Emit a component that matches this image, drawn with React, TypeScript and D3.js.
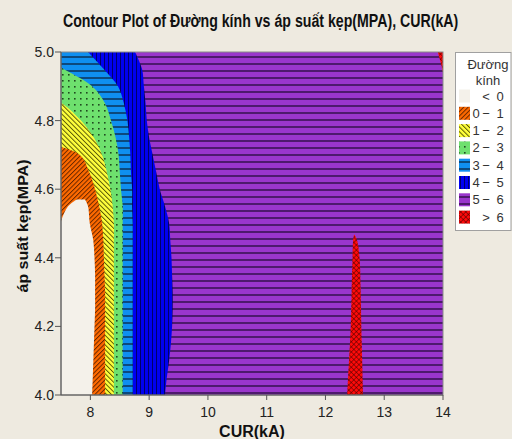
import React, { useLayoutEffect, useRef } from "react";
import * as d3 from "d3";

// pressure rows (MPa) at which the contour edges were read
const pressure = [4.0, 4.05, 4.1, 4.15, 4.2, 4.25, 4.3, 4.35, 4.4, 4.45, 4.5, 4.55, 4.6, 4.65, 4.7, 4.75, 4.8, 4.85, 4.9, 4.95, 5.0];

// CUR (kA) where Đường kính crosses 1, 2, 3, 4, 5 on each row
const edge1 = [8.25, 8.25, 8.25, 8.25, 8.25, 8.25, 8.25, 8.24, 8.23, 8.22, 8.2, 8.15, 8.08, 7.98, 7.82, 7.0, 6.6, 6.3, 6.0, 5.8, 5.6];
const edge2 = [8.4, 8.4, 8.4, 8.4, 8.4, 8.4, 8.4, 8.4, 8.4, 8.4, 8.4, 8.38, 8.34, 8.28, 8.2, 8.06, 7.84, 7.52, 7.0, 6.6, 6.3];
const edge3 = [8.55, 8.55, 8.55, 8.55, 8.55, 8.55, 8.55, 8.55, 8.55, 8.55, 8.55, 8.55, 8.52, 8.5, 8.48, 8.43, 8.35, 8.25, 8.03, 7.55, 7.0];
const edge4 = [8.72, 8.72, 8.72, 8.72, 8.72, 8.72, 8.72, 8.72, 8.72, 8.72, 8.72, 8.71, 8.71, 8.69, 8.68, 8.66, 8.63, 8.57, 8.47, 8.23, 7.96];
const edge5 = [9.27, 9.3, 9.34, 9.37, 9.39, 9.4, 9.4, 9.39, 9.38, 9.36, 9.34, 9.27, 9.18, 9.12, 9.06, 9.0, 8.96, 8.94, 8.91, 8.88, 8.76];

// the "< 0" dome at the bottom left
const domePressure = [4.0, 4.05, 4.1, 4.15, 4.2, 4.25, 4.3, 4.35, 4.4, 4.45, 4.5, 4.55, 4.57];
const domeLeft = [7.45, 7.45, 7.45, 7.45, 7.45, 7.45, 7.45, 7.45, 7.45, 7.45, 7.49, 7.62, 7.77];
const domeRight = [8.03, 8.04, 8.05, 8.06, 8.07, 8.08, 8.08, 8.08, 8.07, 8.05, 7.99, 7.96, 7.91];

// the "> 6" spike near 12.5 kA and the top right corner
const spikePressure = [4.0, 4.1, 4.2, 4.3, 4.4, 4.45, 4.467];
const spikeLeft = [12.37, 12.4, 12.43, 12.445, 12.46, 12.47, 12.485];
const spikeRight = [12.64, 12.625, 12.61, 12.6, 12.58, 12.54, 12.495];
const cornerPressure = [4.94, 4.97, 5.0];
const cornerLeft = [14.0, 13.96, 13.91];
const cornerRight = [14.0, 14.0, 14.0];

const xTicks = [8, 9, 10, 11, 12, 13, 14];
const yTicks = [4.0, 4.2, 4.4, 4.6, 4.8, 5.0];
const legendLow = ["", "0", "1", "2", "3", "4", "5", ""];
const legendSign = ["<", "−", "−", "−", "−", "−", "−", ">"];
const legendHigh = ["0", "1", "2", "3", "4", "5", "6", "6"];
const patternIds = ["pWhite", "pOrange", "pYellow", "pGreen", "pLight", "pBlue", "pPurple", "pRed"];

const FONT = "'Liberation Sans Narrow', 'Liberation Sans', Arial, sans-serif";
const TITLE = "Contour Plot of Đường kính vs áp suất kẹp(MPA), CUR(kA)";

export default function App() {
  const titleRef = useRef<SVGTextElement>(null);

  // squeeze the bold title horizontally so it spans the same width as the original
  useLayoutEffect(() => {
    const el = titleRef.current;
    if (!el) return;
    const w = el.getComputedTextLength();
    const k = w > 0 ? 395 / w : 1;
    el.setAttribute("transform", `translate(63,27) scale(${k},1)`);
  }, []);

  const x = d3.scaleLinear().domain([7.5, 14]).range([61, 443]);
  const y = d3.scaleLinear().domain([4, 5]).range([395, 52]);
  const curve = d3.curveCatmullRom.alpha(0.5);

  // region where the value is above an edge: from the edge to the right side
  const above = (edge: number[]) =>
    d3
      .area<number>()
      .y((_, i) => y(pressure[i]))
      .x0((d) => x(d))
      .x1(x(14))
      .curve(curve)(edge) || "";

  const band = (ps: number[], left: number[], right: number[]) =>
    d3
      .area<number>()
      .y((p) => y(p))
      .x0((_, i) => x(left[i]))
      .x1((_, i) => x(right[i]))
      .curve(curve)(ps) || "";

  const x0 = x(7.5), x1 = x(14), yTop = y(5), yBot = y(4);

  return (
    <svg width={512} height={439} style={{ position: "absolute", left: 0, top: 0 }}>
      <defs>
        <clipPath id="plotClip">
          <rect x={x0} y={yTop} width={x1 - x0} height={yBot - yTop} />
        </clipPath>
        <pattern id="pWhite" patternUnits="userSpaceOnUse" width={4} height={4}>
          <rect width={4} height={4} fill="#F4F1EA" />
        </pattern>
        <pattern id="pOrange" patternUnits="userSpaceOnUse" width={3.2} height={6} patternTransform="rotate(45)">
          <rect width={3.2} height={6} fill="#FF6A00" />
          <line x1={0.5} y1={0} x2={0.5} y2={6} stroke="#5A2000" strokeWidth={0.9} />
        </pattern>
        <pattern id="pYellow" patternUnits="userSpaceOnUse" width={3.4} height={6} patternTransform="rotate(-45)">
          <rect width={3.4} height={6} fill="#FFFF3C" />
          <line x1={0.5} y1={0} x2={0.5} y2={6} stroke="#4A4A00" strokeWidth={0.9} />
        </pattern>
        <pattern id="pGreen" patternUnits="userSpaceOnUse" width={6} height={6}>
          <rect width={6} height={6} fill="#6EE06E" />
          <rect x={2} y={2} width={1.6} height={1.6} fill="#1F4A1F" />
        </pattern>
        <pattern id="pLight" patternUnits="userSpaceOnUse" width={10} height={7}>
          <rect width={10} height={7} fill="#0F8FF0" />
          <line x1={0} y1={1} x2={10} y2={1} stroke="#0A1A30" strokeWidth={1.2} />
        </pattern>
        <pattern id="pBlue" patternUnits="userSpaceOnUse" width={4} height={10}>
          <rect width={4} height={10} fill="#0000F0" />
          <line x1={0.5} y1={0} x2={0.5} y2={10} stroke="#00006A" strokeWidth={1} />
        </pattern>
        <pattern id="pPurple" patternUnits="userSpaceOnUse" width={10} height={7}>
          <rect width={10} height={7} fill="#9A36CC" />
          <line x1={0} y1={1} x2={10} y2={1} stroke="#3A1255" strokeWidth={1.6} />
        </pattern>
        <pattern id="pRed" patternUnits="userSpaceOnUse" width={3.6} height={3.6} patternTransform="rotate(45)">
          <rect width={3.6} height={3.6} fill="#FF0A0A" />
          <line x1={0} y1={0.3} x2={3.6} y2={0.3} stroke="#400000" strokeWidth={0.6} />
          <line x1={0.3} y1={0} x2={0.3} y2={3.6} stroke="#400000" strokeWidth={0.6} />
        </pattern>
      </defs>

      <rect width={512} height={439} fill="#EEEAE0" />

      <text
        ref={titleRef}
        transform="translate(63,27) scale(0.8,1)"
        fontFamily={FONT}
        fontSize={19}
        fontWeight="bold"
        fill="#111"
      >
        {TITLE}
      </text>

      <g clipPath="url(#plotClip)">
        <rect x={x0} y={yTop} width={x1 - x0} height={yBot - yTop} fill="url(#pOrange)" />
        <path d={band(domePressure, domeLeft, domeRight)} fill="url(#pWhite)" />
        <path d={above(edge1)} fill="url(#pYellow)" />
        <path d={above(edge2)} fill="url(#pGreen)" />
        <path d={above(edge3)} fill="url(#pLight)" />
        <path d={above(edge4)} fill="url(#pBlue)" />
        <path d={above(edge5)} fill="url(#pPurple)" />
        <path d={band(spikePressure, spikeLeft, spikeRight)} fill="url(#pRed)" />
        <path d={band(cornerPressure, cornerLeft, cornerRight)} fill="url(#pRed)" />
      </g>

      <rect x={x0} y={yTop} width={x1 - x0} height={yBot - yTop} fill="none" stroke="#8A8A8A" strokeWidth={1} />
      <line x1={x0} y1={yTop} x2={x0} y2={yBot} stroke="#555" />
      <line x1={x0} y1={yBot} x2={x1} y2={yBot} stroke="#555" />

      {yTicks.map((t) => (
        <g key={t} transform={`translate(0,${y(t)})`}>
          <line x1={x0 - 6} x2={x0} stroke="#555" />
          <text x={x0 - 7} dy="0.35em" textAnchor="end" fontFamily={FONT} fontSize={14} fill="#222">
            {d3.format(".1f")(t)}
          </text>
        </g>
      ))}
      {xTicks.map((t) => (
        <g key={t} transform={`translate(${x(t)},0)`}>
          <line y1={yBot} y2={yBot + 5} stroke="#555" />
          <text y={417} textAnchor="middle" fontFamily={FONT} fontSize={14} fill="#222">
            {t}
          </text>
        </g>
      ))}

      <text
        x={252}
        y={437}
        textAnchor="middle"
        fontFamily={FONT}
        fontSize={16}
        fontWeight="bold"
        fill="#111"
      >
        CUR(kA)
      </text>
      <text
        transform="translate(28,226) rotate(-90)"
        textAnchor="middle"
        fontFamily={FONT}
        fontSize={15}
        fontWeight="bold"
        fill="#111"
        textLength={133}
        lengthAdjust="spacingAndGlyphs"
      >
        áp suất kẹp(MPA)
      </text>

      <g>
        <rect x={455.5} y={52.5} width={55.5} height={178} fill="#FFFFFF" stroke="#A0A0A0" />
        <text x={488} y={69} textAnchor="middle" fontFamily={FONT} fontSize={13} fill="#333">
          Đường
        </text>
        <text x={488} y={85} textAnchor="middle" fontFamily={FONT} fontSize={13} fill="#333">
          kính
        </text>
        {patternIds.map((id, i) => {
          const cy = 96 + i * 17.3;
          return (
            <g key={id}>
              <rect x={459} y={cy - 6.5} width={11} height={13} fill={`url(#${id})`} />
              <text x={476} y={cy + 4.5} textAnchor="middle" fontFamily={FONT} fontSize={13} fill="#333">
                {legendLow[i]}
              </text>
              <text x={486} y={cy + 4.5} textAnchor="middle" fontFamily={FONT} fontSize={13} fill="#333">
                {legendSign[i]}
              </text>
              <text x={500} y={cy + 4.5} textAnchor="middle" fontFamily={FONT} fontSize={13} fill="#333">
                {legendHigh[i]}
              </text>
            </g>
          );
        })}
      </g>
    </svg>
  );
}
